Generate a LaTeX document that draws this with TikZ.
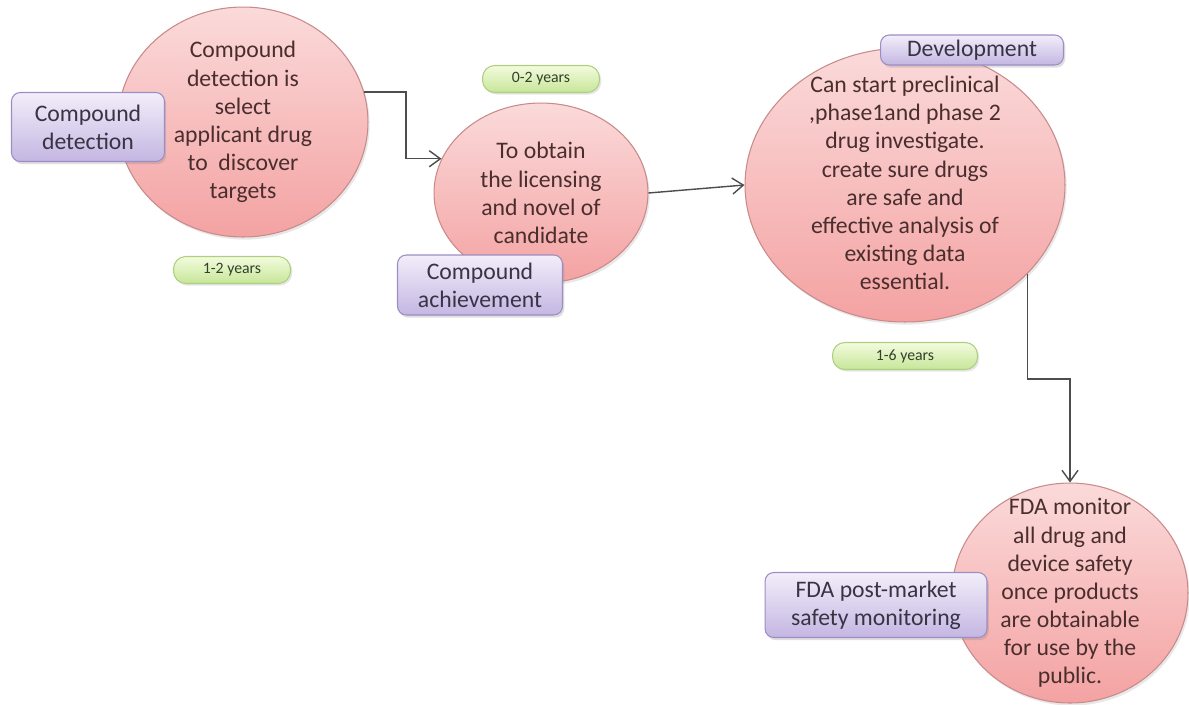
\documentclass[tikz,border=0pt]{standalone}
\usepackage{fontspec}
\setmainfont{Carlito}
\usepackage{tikz}
\usetikzlibrary{arrows.meta,shapes.geometric,shadows,calc,positioning}

\definecolor{pinktop}{HTML}{FBDADA}
\definecolor{pinkbot}{HTML}{F4A2A2}
\definecolor{pinkline}{HTML}{C98A8A}
\definecolor{lilactop}{HTML}{F2EEFA}
\definecolor{lilacbot}{HTML}{C4B6E2}
\definecolor{lilacline}{HTML}{9C8DC4}
\definecolor{limetop}{HTML}{F3FBDE}
\definecolor{limebot}{HTML}{C6E698}
\definecolor{limeline}{HTML}{AECF80}
\definecolor{circtext}{HTML}{4A2E2E}
\definecolor{boxtext}{HTML}{383444}
\definecolor{pilltext}{HTML}{34402A}
\definecolor{arrowgray}{HTML}{4D4D4D}

\begin{document}
\begin{tikzpicture}[x=0.02cm,y=-0.02cm,
    stagebox/.style={ellipse,draw=pinkline,line width=0.6pt,top color=pinktop,bottom color=pinkbot,
      inner sep=0pt,drop shadow={opacity=0.18,shadow xshift=1pt,shadow yshift=-1.5pt}},
    stagetext/.style={text=circtext,align=center,inner sep=0pt,font=\fontsize{13.5}{16}\selectfont},
    namebox/.style={rectangle,rounded corners=5pt,draw=lilacline,line width=0.6pt,top color=lilactop,
      bottom color=lilacbot,text=boxtext,align=center,inner sep=0pt,font=\fontsize{13.5}{16}\selectfont,
      drop shadow={opacity=0.25,shadow xshift=1pt,shadow yshift=-1.5pt}},
    yearpill/.style={rectangle,rounded corners=7pt,draw=limeline,line width=0.6pt,top color=limetop,
      bottom color=limebot,text=pilltext,inner sep=0pt,minimum height=0.54cm,font=\fontsize{9}{10}\selectfont,
      drop shadow={opacity=0.2,shadow xshift=1pt,shadow yshift=-1.2pt}},
    flow/.style={draw=arrowgray,line width=0.8pt,-{Straight Barb[length=2.2mm,width=3.2mm]}}
  ]
    % stages
    \node[stagebox,minimum width=5cm,minimum height=4.6cm] (detect) at (243,122) {};
    \node[stagetext] (detecttxt) at (detect) {Compound\\detection is\\select\\applicant drug\\to\ \ discover\\targets};
    \node[stagebox,minimum width=4.28cm,minimum height=3.6cm] (obtain) at (541,193) {};
    \node[stagetext] (obtaintxt) at (obtain) {To obtain\\the licensing\\and novel of\\candidate};
    \node[stagebox,minimum width=6.4cm,minimum height=5.48cm] (develop) at (905,185) {};
    \node[stagetext] (developtxt) at ($(develop)+(0,-2)$) {Can start preclinical\\,phase1and phase 2\\drug investigate.\\create sure drugs\\are safe and\\effective analysis of\\existing data\\essential.};
    \node[stagebox,minimum width=4.72cm,minimum height=4.4cm] (monitor) at (1070,593) {};
    \node[stagetext] (monitortxt) at (monitor) {FDA monitor\\all drug and\\device safety\\once products\\are obtainable\\for use by the\\public.};

    \draw[flow] (detect.14) -- ++(42,0) |- (obtain.161);
    \draw[flow] (obtain.east) -- (develop.west);
    \draw[flow] (develop.-36) -- ++(0,105) -| (monitor.north);

    % labels
    \node[namebox,minimum width=3.06cm,minimum height=1.38cm] (detectlbl) at (88,127) {Compound\\detection};
    \node[namebox,minimum width=3.3cm,minimum height=1.2cm] (obtainlbl) at (480,285) {Compound\\achievement};
    \node[namebox,minimum width=3.66cm,minimum height=0.6cm] (developlbl) at (972,50) {Development};
    \node[namebox,minimum width=4.44cm,minimum height=1.3cm] (monitorlbl) at (876,605) {FDA post-market\\safety monitoring};

    \node[yearpill,minimum width=2.34cm] (detectyrs) at (232,270) {1-2 years};
    \node[yearpill,minimum width=2.34cm] (obtainyrs) at (541,79) {0-2 years};
    \node[yearpill,minimum width=2.9cm] (developyrs) at (905,356) {1-6 years};

    \pgfresetboundingbox
    \useasboundingbox (0,0) rectangle (1189,704);
  \end{tikzpicture}
\end{document}
